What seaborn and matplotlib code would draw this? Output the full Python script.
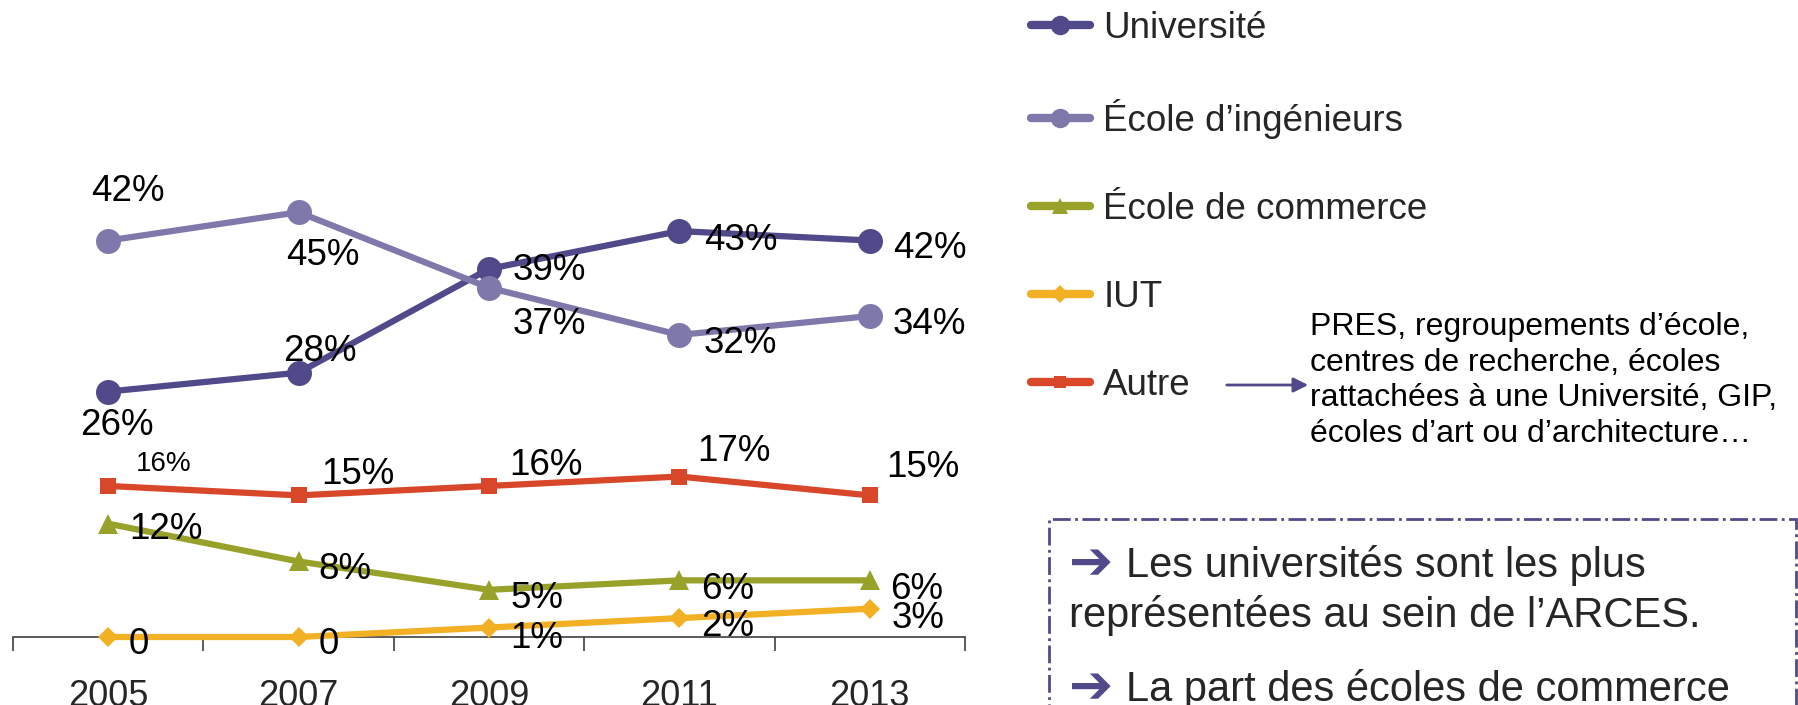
import matplotlib
matplotlib.use("Agg")
import matplotlib.pyplot as plt
import seaborn as sns
import pandas as pd
from matplotlib.lines import Line2D
from matplotlib.patches import Rectangle, FancyArrowPatch

# ---------------- data ----------------
years = [2005, 2007, 2009, 2011, 2013]
year_labels = ["2005", "2007", "2009", "2011", "2013"]
series_names = ["Université", "École d’ingénieurs", "École de commerce", "IUT", "Autre"]
universite = [26, 28, 39, 43, 42]
ingenieurs = [42, 45, 37, 32, 34]
commerce = [12, 8, 5, 6, 6]
iut = [0, 0, 1, 2, 3]
autre = [16, 15, 16, 17, 15]
label_univ = ["26%", "28%", "39%", "43%", "42%"]
label_ing = ["42%", "45%", "37%", "32%", "34%"]
label_com = ["12%", "8%", "5%", "6%", "6%"]
label_iut = ["0", "0", "1%", "2%", "3%"]
label_aut = ["16%", "15%", "16%", "17%", "15%"]
note_text = ("PRES, regroupements d’école,\ncentres de recherche, écoles\n"
             "rattachées à une Université, GIP,\nécoles d’art ou d’architecture…")
box_lines = ["Les universités sont les plus",
             "représentées au sein de l’ARCES.",
             "La part des écoles de commerce"]
box_arrow = "➔"

values = [universite, ingenieurs, commerce, iut, autre]
labels = [label_univ, label_ing, label_com, label_iut, label_aut]

# ---------------- styles ----------------
colors = ["#504A8A", "#7F78AB", "#98A22A", "#F2B124", "#D9472A"]
markers = ["o", "o", "^", "D", "s"]
msizes = [18, 18, 15, 10.5, 11]
leg_msizes = [14, 14, 12, 9, 9]
# label offsets in pixels (dx right, dy down) from point to ink centre
offsets = [
    [(9, 30), (21, -25), (60, -2), (61, 6), (60, 4)],
    [(20, -53), (24, 40), (60, 33), (61, 5), (60, 5)],
    [(58, 2), (46, 4), (48, 5), (48, 5), (47, 5)],
    [(31, 4), (30, 4), (48, 7), (48, 5), (48, 6)],
    [(55, -26), (59, -25), (57, -24), (55, -29), (53, -32)],
]
small_labels = {(4, 0)}

sns.set_theme(style="white")
plt.rcParams["font.family"] = ["Liberation Sans", "DejaVu Sans"]

W, H = 1798, 705
fig = plt.figure(figsize=(W / 100, H / 100), dpi=100)
px_per_pct = 9.44
ax_bottom_px, ax_top_px = 637, 105
ax_left_px, ax_right_px = 13, 965
ax = fig.add_axes([ax_left_px / W, (H - ax_bottom_px) / H,
                   (ax_right_px - ax_left_px) / W, (ax_bottom_px - ax_top_px) / H])

rows = []
for name, vals in zip(series_names, values):
    for yv, v in zip(years, vals):
        rows.append({"year": yv, "value": v, "series": name})
df = pd.DataFrame(rows)

for i, name in enumerate(series_names):
    sub = df[df["series"] == name]
    sns.lineplot(data=sub, x="year", y="value", ax=ax, color=colors[i],
                 marker=markers[i], markersize=msizes[i], markeredgewidth=0,
                 linewidth=4.5, clip_on=False, legend=False, zorder=3 + i * 0.1)

for i in range(len(series_names)):
    for j, (yv, v) in enumerate(zip(years, values[i])):
        dx, dy = offsets[i][j]
        fs = 20 if (i, j) in small_labels else 26.5
        ax.annotate(labels[i][j], (yv, v), xytext=(dx, -(dy + 3.7)),
                    textcoords="offset pixels", ha="center", va="center",
                    fontsize=fs, color="black", zorder=10,
                    annotation_clip=False)

ax.set_xlim(2004, 2014)
ax.set_ylim(0, (ax_bottom_px - ax_top_px) / px_per_pct)
ax.set_xticks(years)
ax.set_xticklabels(year_labels, fontsize=26)
ax.set_xticks([2004, 2006, 2008, 2010, 2012, 2014], minor=True)
ax.tick_params(axis="x", which="major", length=0, pad=30)
ax.tick_params(axis="x", which="minor", length=10, width=1.2, direction="out",
               color="#404040", bottom=True)
ax.set_yticks([])
ax.set_xlabel("")
ax.set_ylabel("")
for s in ["left", "right", "top"]:
    ax.spines[s].set_visible(False)
ax.spines["bottom"].set_color("#404040")
ax.spines["bottom"].set_linewidth(1.2)
ax.patch.set_alpha(0)

# legend
handles = [Line2D([0], [0], color=colors[i], marker=markers[i], markersize=leg_msizes[i],
                  markeredgewidth=0, linewidth=6) for i in range(len(series_names))]
fig.legend(handles, series_names, loc="upper left",
           bbox_to_anchor=(1031 / W, 1 - 11 / H), frameon=False, fontsize=26.5,
           handlelength=1.6, handletextpad=0.36, labelspacing=1.44,
           borderpad=0, borderaxespad=0)

# arrow + note
fig.patches.append(FancyArrowPatch(
    (1224 / W, 1 - 385 / H), (1311 / W, 1 - 385 / H), transform=fig.transFigure,
    arrowstyle="-|>", mutation_scale=22, color="#504A8A", linewidth=2))
fig.text(1310 / W, 1 - 312 / H, note_text, fontsize=23, ha="left", va="top",
         linespacing=1.25, color="black")

# dashed box
rect = Rectangle((1049 / W, -0.2), (1796 - 1049) / W, (705 - 519) / H + 0.2,
                 transform=fig.transFigure, fill=False, edgecolor="#504A8A",
                 linewidth=2, linestyle="-.", clip_on=False)
fig.patches.append(rect)
arrow_col = "#504A8A"
fig.text(1069 / W, 1 - 564 / H, box_arrow, fontsize=38, color=arrow_col, ha="left",
         va="center", family="DejaVu Sans", fontweight="bold")
fig.text(1126 / W, 1 - 566 / H, box_lines[0], fontsize=30, ha="left", va="center")
fig.text(1069 / W, 1 - 616 / H, box_lines[1], fontsize=30, ha="left", va="center")
fig.text(1069 / W, 1 - 688 / H, box_arrow, fontsize=38, color=arrow_col, ha="left",
         va="center", family="DejaVu Sans", fontweight="bold")
fig.text(1126 / W, 1 - 690 / H, box_lines[2], fontsize=30, ha="left", va="center")

fig.savefig("out.png", dpi=100)
